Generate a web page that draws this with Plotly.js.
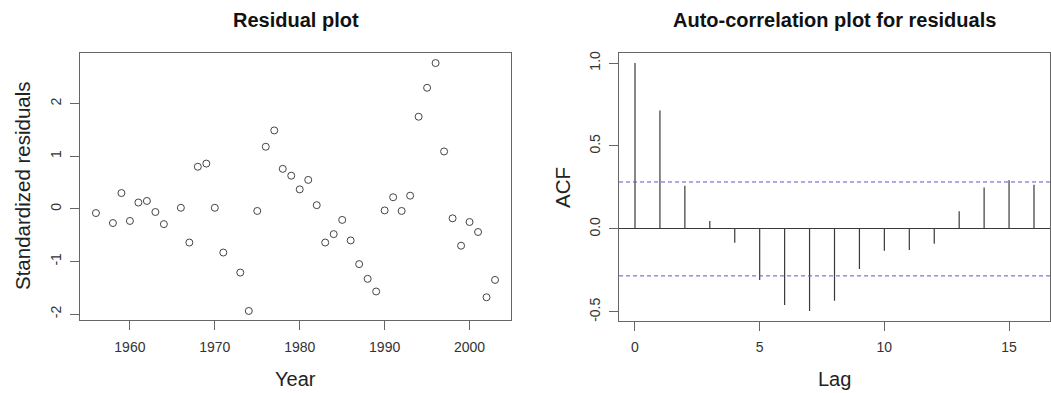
<!DOCTYPE html>
<html>
<head>
<meta charset="utf-8">
<script src="https://cdn.plot.ly/plotly-3.0.1.min.js"></script>
<style>
  html, body { margin: 0; padding: 0; background: #ffffff; }
  #chart { width: 1051px; height: 393px; }
</style>
</head>
<body>
<div id="chart"></div>
<script>
// Standardized residuals by year
const years = [1956, 1958, 1959, 1960, 1961, 1962, 1963, 1964,
  1966, 1967, 1968, 1969, 1970, 1971,
  1973, 1974, 1975, 1976, 1977, 1978, 1979, 1980,
  1981, 1982, 1983, 1984, 1985, 1986, 1987, 1988, 1989,
  1990, 1991, 1992, 1993, 1994, 1995, 1996, 1997, 1998, 1999,
  2000, 2001, 2002, 2003];
const residuals = [-0.08, -0.27, 0.30, -0.23, 0.12, 0.15, -0.06, -0.29,
  0.02, -0.64, 0.80, 0.86, 0.02, -0.83,
  -1.21, -1.94, -0.04, 1.18, 1.49, 0.76, 0.63, 0.37,
  0.55, 0.07, -0.64, -0.48, -0.21, -0.60, -1.05, -1.33, -1.57,
  -0.03, 0.22, -0.04, 0.25, 1.75, 2.30, 2.77, 1.09, -0.18, -0.70,
  -0.25, -0.44, -1.68, -1.35];

// Sample autocorrelation of the residuals
const lags = [0, 1, 2, 3, 4, 5, 6, 7, 8, 9, 10, 11, 12, 13, 14, 15, 16];
const acf = [1.0, 0.714, 0.261, 0.048, -0.083, -0.308, -0.459, -0.495,
  -0.433, -0.241, -0.131, -0.127, -0.089, 0.107, 0.249, 0.294, 0.266];
const ciBound = 0.283;

const yearTicks = [1960, 1970, 1980, 1990, 2000];
const residTicks = [-2, -1, 0, 1, 2];
const lagTicks = [0, 5, 10, 15];
const acfTicks = [-0.5, 0.0, 0.5, 1.0];
const acfTickText = ['-0.5', '0.0', '0.5', '1.0'];

// vertical stems from zero up/down to each ACF value
const stemX = [], stemY = [];
lags.forEach((l, i) => { stemX.push(l, l, null); stemY.push(0, acf[i], null); });

const FONT = '"Liberation Sans", Arial, sans-serif';
const INK = '#333333';
const FRAME = '#666666';

const traces = [
  {
    type: 'scatter', mode: 'markers', x: years, y: residuals,
    xaxis: 'x', yaxis: 'y',
    marker: { symbol: 'circle-open', size: 7, color: '#444444', line: { width: 1, color: '#444444' } },
    hoverinfo: 'x+y', showlegend: false
  },
  {
    type: 'scatter', mode: 'lines', x: stemX, y: stemY,
    xaxis: 'x2', yaxis: 'y2',
    line: { color: '#3a3a3a', width: 1.2 },
    connectgaps: false, hoverinfo: 'skip', showlegend: false
  }
];

const axisBase = {
  showgrid: false, zeroline: false,
  showline: true, mirror: true, linecolor: FRAME, linewidth: 1,
  ticks: 'outside', ticklen: 9, tickcolor: FRAME, tickwidth: 1,
  tickfont: { family: FONT, size: 14, color: INK },
  fixedrange: true
};

const layout = {
  width: 1051, height: 393,
  margin: { l: 0, r: 0, t: 0, b: 0 },
  paper_bgcolor: '#ffffff', plot_bgcolor: '#ffffff',
  font: { family: FONT, color: INK },
  showlegend: false,
  xaxis: Object.assign({}, axisBase, {
    domain: [0.0761, 0.4862], range: [1954.12, 2004.88],
    tickmode: 'array', tickvals: yearTicks, ticktext: yearTicks.map(String),
    ticklabelstandoff: 5, anchor: 'y'
  }),
  yaxis: Object.assign({}, axisBase, {
    domain: [0.186, 0.865], range: [-2.11, 2.96],
    tickmode: 'array', tickvals: residTicks, ticktext: residTicks.map(String),
    tickangle: -90, ticklabelstandoff: 3, anchor: 'x'
  }),
  xaxis2: Object.assign({}, axisBase, {
    domain: [0.589, 0.999], range: [-0.64, 16.64],
    tickmode: 'array', tickvals: lagTicks, ticktext: lagTicks.map(String),
    ticklabelstandoff: 5, anchor: 'y2'
  }),
  yaxis2: Object.assign({}, axisBase, {
    domain: [0.184, 0.865], range: [-0.553, 1.06],
    tickmode: 'array', tickvals: acfTicks, ticktext: acfTickText,
    tickangle: -90, ticklabelstandoff: 3, anchor: 'x2',
    zeroline: true, zerolinecolor: '#3a3a3a', zerolinewidth: 1
  }),
  shapes: [ciBound, -ciBound].map(v => ({
    type: 'line', xref: 'x2 domain', yref: 'y2',
    x0: 0, x1: 1, y0: v, y1: v,
    line: { color: '#5555d0', width: 1, dash: '4px,3px' }
  })),
  annotations: [
    { text: '<b>Residual plot</b>', x: 0.2812, y: 1 - 20 / 393, xref: 'paper', yref: 'paper',
      showarrow: false, xanchor: 'center', yanchor: 'middle',
      font: { family: FONT, size: 20, color: '#111111' } },
    { text: '<b>Auto-correlation plot for residuals</b>', x: 0.794, y: 1 - 20 / 393, xref: 'paper', yref: 'paper',
      showarrow: false, xanchor: 'center', yanchor: 'middle',
      font: { family: FONT, size: 20, color: '#111111' } },
    { text: 'Year', x: 0.2812, y: 1 - 379 / 393, xref: 'paper', yref: 'paper',
      showarrow: false, xanchor: 'center', yanchor: 'middle',
      font: { family: FONT, size: 20, color: '#222222' } },
    { text: 'Lag', x: 0.794, y: 1 - 379 / 393, xref: 'paper', yref: 'paper',
      showarrow: false, xanchor: 'center', yanchor: 'middle',
      font: { family: FONT, size: 20, color: '#222222' } },
    { text: 'Standardized residuals', x: 22 / 1051, y: 1 - 186 / 393, xref: 'paper', yref: 'paper',
      showarrow: false, xanchor: 'center', yanchor: 'middle', textangle: -90,
      font: { family: FONT, size: 20.5, color: '#222222' } },
    { text: 'ACF', x: 562 / 1051, y: 1 - 188 / 393, xref: 'paper', yref: 'paper',
      showarrow: false, xanchor: 'center', yanchor: 'middle', textangle: -90,
      font: { family: FONT, size: 20.5, color: '#222222' } }
  ]
};

Plotly.newPlot('chart', traces, layout, { staticPlot: true, displayModeBar: false });
</script>
</body>
</html>
